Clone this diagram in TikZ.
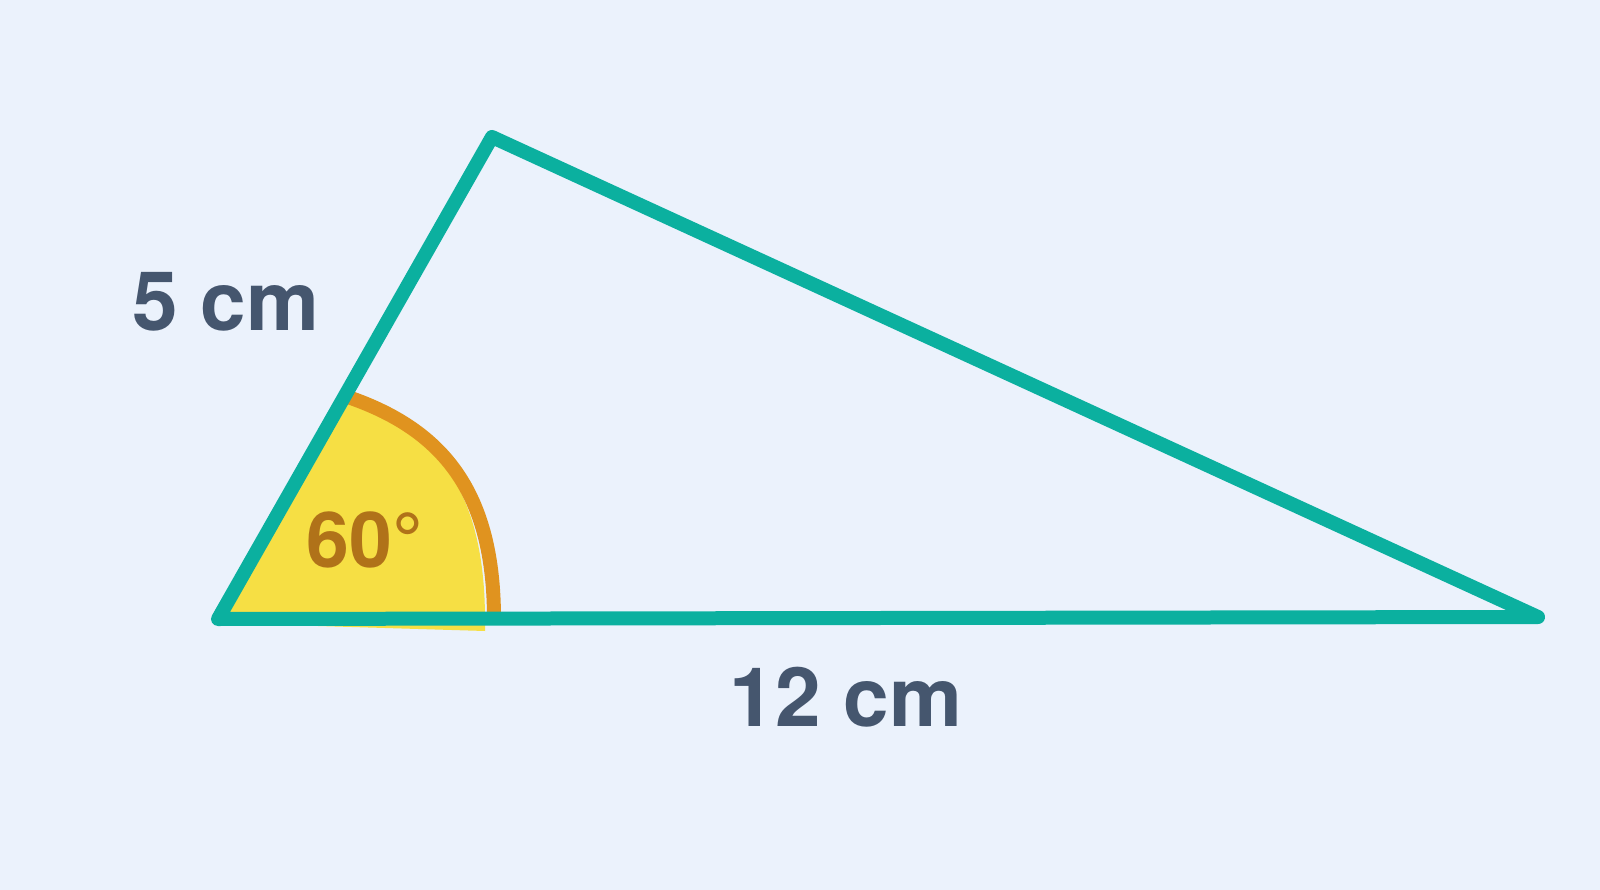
\documentclass[tikz,border=0pt]{standalone}
\usepackage{fontspec}
\setmainfont{TeX Gyre Heros}
\definecolor{bgc}{HTML}{EBF2FC}
\definecolor{tealc}{HTML}{0BB09F}
\definecolor{txtc}{HTML}{45566E}
\definecolor{orangec}{HTML}{E0931F}
\definecolor{yellowc}{HTML}{F6DF44}
\definecolor{anglec}{HTML}{B07219}
\tikzset{
  tri/.style={draw=tealc, line width=14pt, line join=round, line cap=round},
  arcstroke/.style={draw=orangec, line width=14pt},
  sector/.style={fill=yellowc},
  lbl/.style={inner sep=0pt, text=txtc, font=\fontsize{82}{90}\selectfont\bfseries},
  anglbl/.style={inner sep=0pt, text=anglec, font=\fontsize{77}{85}\selectfont\bfseries}
}
\begin{document}
\begin{tikzpicture}[x=1pt,y=-1pt]
\fill[bgc] (0,0) rectangle (1600,890);
\useasboundingbox (0,0) rectangle (1600,890);
\coordinate (A) at (218,619);
\coordinate (B) at (492,137);
\coordinate (C) at (1538,617);
% yellow sector
\path[sector] (A) -- (344,398) -- (352,401) .. controls (438,432) and (485,493) .. (485,620)
  -- (485,631) -- (285,625) -- cycle;
% orange arc
\draw[arcstroke] (494,619) .. controls (494,493) and (444,429) .. (345,396);
% triangle
\draw[tri] (A) -- (B) -- (C) -- cycle;
% labels
\node[lbl] (l5) at (226,302) {5 cm};
\node[lbl] (l12) at (846,697.5) {12 cm};
\node[anglbl] (l60) at (365,540) {60°};
\end{tikzpicture}
\end{document}
